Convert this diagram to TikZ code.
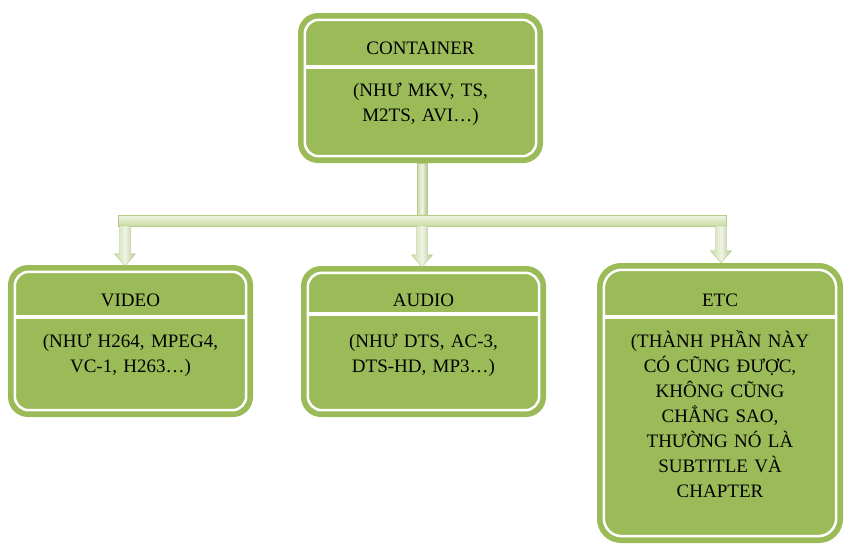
\documentclass[tikz,border=0pt]{standalone}
\usepackage{fontspec}
\setmainfont{Liberation Serif}
\usetikzlibrary{calc}
\definecolor{boxgreen}{HTML}{9BBB59}
\definecolor{connlight}{HTML}{EFF4E4}
\definecolor{conndark}{HTML}{C9DBA3}
\definecolor{connedge}{HTML}{B5CB88}
\newcommand\arrowpath[1]{(#1) -- ++(10.5pt,12pt) -- ++(-5pt,0pt) -- ($(#1 |- barbr)+(5.5pt,0pt)$) -- ($(#1 |- barbr)+(-5.5pt,0pt)$) -- ($(#1)+(-5.5pt,12pt)$) -- ++(-5pt,0pt) -- cycle}
\begin{document}
\begin{tikzpicture}[x=1pt,y=-1pt,
  boxshape/.style={draw=none, fill=boxgreen, inner sep=0pt},
  innerline/.style={draw=white, line width=2.5pt},
  divider/.style={draw=white, line width=4pt},
  titletext/.style={font=\fontsize{19}{25}\selectfont, anchor=base, inner sep=0pt},
  bodytext/.style={font=\fontsize{19}{25}\selectfont, align=center, text width=235pt, anchor=base, inner sep=0pt},
  vconn/.style={left color=conndark, right color=conndark!90!black, middle color=connlight, draw=connedge, line width=0.4pt},
  hconn/.style={top color=connlight, bottom color=conndark, draw=connedge, line width=0.4pt},
  shadowc/.style={fill=black!30, opacity=0.45},
]
\useasboundingbox (0,0) rectangle (847,557);

% boxes
\node[boxshape, rounded corners=20pt, minimum width=245pt, minimum height=150pt] (cont) at (420.5,88) {};
\node[boxshape, rounded corners=20pt, minimum width=245pt, minimum height=152pt] (video) at (130.5,341) {};
\node[boxshape, rounded corners=20pt, minimum width=245pt, minimum height=151pt] (audio) at (423.5,341.5) {};
\node[boxshape, rounded corners=24pt, minimum width=246pt, minimum height=280pt] (etc) at (720,403) {};

\foreach \b/\r in {cont/14pt, video/14pt, audio/14pt, etc/18pt}{
  \draw[innerline, rounded corners=\r] ($(\b.north west)+(7pt,-7pt)$) rectangle ($(\b.south east)+(-7pt,7pt)$);
}
\draw[divider] ($(cont.north west)+(8pt,-54pt)$) -- ($(cont.north east)+(-8pt,-54pt)$);
\draw[divider] ($(video.north west)+(8pt,-52pt)$) -- ($(video.north east)+(-8pt,-52pt)$);
\draw[divider] ($(audio.north west)+(8pt,-48pt)$) -- ($(audio.north east)+(-8pt,-48pt)$);
\draw[divider] ($(etc.north west)+(8pt,-54pt)$) -- ($(etc.north east)+(-8pt,-54pt)$);

% texts
\node[titletext] (contT) at (420.5,54) {CONTAINER};
\node[bodytext] (contB) at (420.5,96) {(NHƯ MKV, TS,\\M2TS, AVI…)};
\node[titletext] (videoT) at (130.5,306) {VIDEO};
\node[bodytext] (videoB) at (130.5,347) {(NHƯ H264, MPEG4,\\VC-1, H263…)};
\node[titletext] (audioT) at (423.5,306) {AUDIO};
\node[bodytext] (audioB) at (423.5,347) {(NHƯ DTS, AC-3,\\DTS-HD, MP3…)};
\node[titletext] (etcT) at (720,306) {ETC};
\node[bodytext] (etcB) at (720,347) {(THÀNH PHẦN NÀY\\CÓ CŨNG ĐƯỢC,\\KHÔNG CŨNG\\CHẲNG SAO,\\THƯỜNG NÓ LÀ\\SUBTITLE VÀ\\CHAPTER};

% connector
\path (video.north) ++(-5.5pt,-1pt) coordinate (vtip);
\path (audio.north) ++(-1.5pt,-1pt) coordinate (atip);
\path (etc.north) ++(1pt,0pt) coordinate (etip);
\coordinate (bartl) at ($(vtip |- 0,215)+(-7pt,0pt)$);
\coordinate (barbr) at ($(etip |- 0,226)+(5pt,0pt)$);

% shadows
\path[shadowc, shift={(1.5pt,-1.5pt)}] (bartl) rectangle (barbr);
\path[shadowc, shift={(1.5pt,-1.5pt)}] ($(cont.south)+(-3.5pt,0pt)$) rectangle ($(atip |- bartl)+(5pt,0pt)$);
\foreach \t in {vtip, atip, etip}{
  \path[shadowc, shift={(1.5pt,-1.5pt)}] \arrowpath{\t};
}
% stem, bar, arrows
\path[vconn] ($(cont.south)+(-3.5pt,0pt)$) rectangle ($(atip |- bartl)+(5pt,0pt)$);
\path[hconn] (bartl) rectangle (barbr);
\foreach \t in {vtip, atip, etip}{
  \path[vconn] \arrowpath{\t};
}
\end{tikzpicture}
\end{document}
